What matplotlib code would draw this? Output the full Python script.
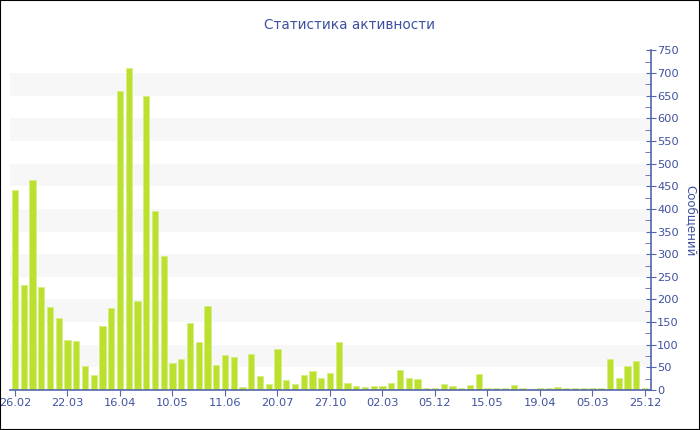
import matplotlib
matplotlib.use("Agg")
import matplotlib.pyplot as plt
import matplotlib.patches as patches
import numpy as np

# messages per period (73 bars)
values = [442, 233, 464, 228, 184, 160, 110, 108, 52, 33,
          141, 182, 661, 712, 196, 650, 395, 296, 59, 68,
          147, 107, 185, 55, 77, 74, 7, 79, 30, 13,
          90, 21, 14, 33, 41, 26, 37, 105, 15, 9,
          7, 8, 9, 15, 44, 26, 24, 4, 4, 13,
          9, 4, 10, 36, 4, 4, 4, 10, 4, 3,
          4, 4, 6, 4, 4, 4, 5, 4, 68, 27,
          53, 63, 5]
tick_labels = ["26.02", "22.03", "16.04", "10.05", "11.06", "20.07", "27.10",
               "02.03", "05.12", "15.05", "19.04", "05.03", "25.12"]
tick_step = 6

blue = "#3f51a0"
axis_blue = "#5466ad"
bar_color = "#bbe02e"

fig = plt.figure(figsize=(7, 4.3), dpi=100)
fig.patch.set_facecolor("white")
fig.patches.append(patches.Rectangle((0, 0), 1, 1, transform=fig.transFigure,
                                     fill=False, edgecolor="black", linewidth=1.5))

ax = fig.add_axes([10 / 700, 40 / 430, 641 / 700, 339.5 / 430])
x = np.arange(len(values))
ax.bar(x, values, width=0.72, color=bar_color, edgecolor="#d6ee84",
       linewidth=0.6, zorder=2)

# alternating bands
for lo in range(50, 750, 100):
    ax.axhspan(lo, lo + 50, color="#f7f7f7", zorder=0, linewidth=0)

ax.set_xlim(-0.57, len(values) - 1 + 0.69)
ax.set_ylim(0, 750)

ax.set_xticks(x[::tick_step])
ax.set_xticklabels(tick_labels)
ax.yaxis.tick_right()
ax.yaxis.set_label_position("right")
ax.set_yticks(np.arange(0, 751, 50))
ax.set_yticks(np.arange(25, 750, 50), minor=True)

for side in ["top", "left"]:
    ax.spines[side].set_visible(False)
for side in ["right", "bottom"]:
    ax.spines[side].set_color(axis_blue)
    ax.spines[side].set_linewidth(1.2)

ax.tick_params(axis="y", which="major", direction="inout", length=7,
               color=axis_blue, labelcolor=blue, labelsize=8.2, pad=1)
ax.tick_params(axis="y", which="minor", direction="in", length=4, color=axis_blue)
ax.tick_params(axis="x", which="major", direction="out", length=4,
               color=axis_blue, labelcolor=blue, labelsize=8.2, pad=2)

ax.set_ylabel("Сообщений", color=blue, fontsize=8.5, rotation=270, labelpad=13)
fig.text(0.499, 1 - 25 / 430, "Статистика активности", color=blue,
         fontsize=9.8, ha="center", va="center")

fig.savefig("out.png", dpi=100)
